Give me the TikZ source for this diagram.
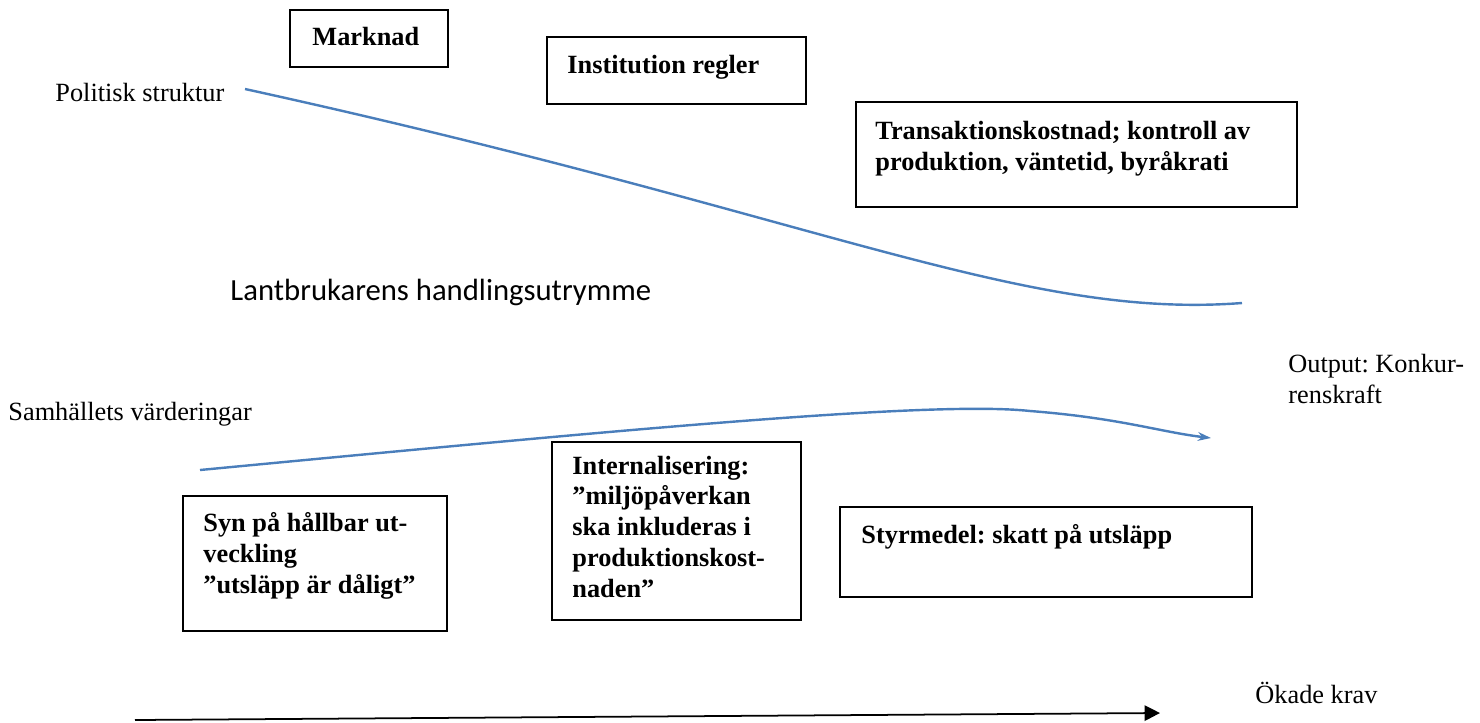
\documentclass[tikz,border=0pt]{standalone}
\usepackage{fontspec}
\setmainfont{Liberation Serif}
\newfontfamily\calibri{Carlito}
\usetikzlibrary{arrows.meta,fit}

\definecolor{curveblue}{HTML}{4A7EBB}
\frenchspacing

\begin{document}
\begin{tikzpicture}[x=0.456pt, y=-0.456pt,
  box/.style={draw=black, line width=0.9pt, inner sep=0pt},
  boxtext/.style={anchor=base west, inner sep=0pt, align=left, font=\fontsize{12}{14}\selectfont\bfseries},
  plain/.style={anchor=base west, inner sep=0pt, align=left, font=\fontsize{12}{12}\selectfont},
  curve/.style={draw=curveblue, line width=1.1pt}]

\useasboundingbox (0,0) rectangle (1480,722);

% upper row of boxes (text placed at its last baseline)
\node[box, fit={(290,10) (448,67)}] (marknad) {};
\node[boxtext] (marknadtxt) at (312,45) {Marknad};

\node[box, fit={(547,37) (806,104)}] (inst) {};
\node[boxtext] (insttxt) at (567,73) {Institution regler};

\node[box, fit={(856,102) (1297,207)}] (trans) {};
\node[boxtext] (transtxt) at (875,170) {Transaktionskostnad; kontroll av\\produktion, väntetid, byråkrati};

% lower row of boxes
\node[box, fit={(183,496) (447,631)}] (syn) {};
\node[boxtext] (syntxt) at (203,593) {Syn på hållbar ut-\\veckling\\”utsläpp är dåligt”};

\node[box, fit={(552,442) (801,620)}] (intern) {};
\node[boxtext] (interntxt) at (572,597) {Internalisering:\\”miljöpåverkan\\ska inkluderas i\\produktionskost-\\naden”};

\node[box, fit={(840,507) (1252,597)}] (styr) {};
\node[boxtext] (styrtxt) at (861,543) {Styrmedel: skatt på utsläpp};

% labels
\node[plain] (politisk) at (55,101) {Politisk struktur};
\node[plain] (samh) at (8,420) {Samhällets värderingar};
\node[plain] (output) at (1288,403) {Output: Konkur-\\[2pt]renskraft};
\node[plain] (krav) at (1255,703) {Ökade krav};
\node[anchor=base west, inner sep=0pt, font=\calibri\fontsize{14}{16}\selectfont] (utrymme) at (230,300) {Lantbrukarens handlingsutrymme};

% curves
\coordinate (polstart) at (245,89);
\coordinate (polend) at (1242,303);
\coordinate (samstart) at (200,470);
\coordinate (samtop) at (1030,411);
\coordinate (samend) at (1211,438);
\coordinate (kravstart) at (135,720);
\coordinate (kravend) at (1160,713);

\draw[curve] (polstart) .. controls (820,215) and (1020,320) .. (polend);
\draw[curve, -{Stealth[length=6pt, width=4pt]}] (samstart) .. controls (600,432) and (930,400) .. (samtop) .. controls (1120,418) and (1160,432) .. (samend);
\draw[line width=0.8pt, -{Triangle[length=7pt, width=7pt]}] (kravstart) -- (kravend);
\end{tikzpicture}
\end{document}
